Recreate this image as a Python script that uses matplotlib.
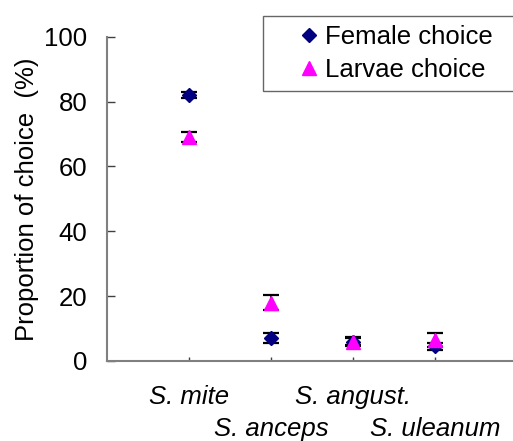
import matplotlib
matplotlib.use("Agg")
import matplotlib.pyplot as plt
from matplotlib.legend_handler import HandlerLine2D

plt.rcParams['font.family'] = ['Liberation Sans', 'DejaVu Sans']

categories = ["S. mite", "S. anceps", "S. angust.", "S. uleanum"]
female = [82.0, 7.0, 6.0, 4.5]
female_err = [1.0, 1.5, 1.3, 1.2]
larvae = [69.0, 18.0, 6.0, 6.5]
larvae_err = [1.5, 2.2, 1.2, 2.2]
yticks = [0, 20, 40, 60, 80, 100]

FS = 18.5
x = list(range(1, len(categories) + 1))

fig = plt.figure(figsize=(5.13, 4.41), dpi=100)
ax = fig.add_axes([107/513, 80/441, 410/513, 324.3/441])

ax.errorbar(x, female, yerr=female_err, fmt='none', ecolor='black',
            elinewidth=1.2, capsize=6, capthick=1.6, zorder=2)
ax.errorbar(x, larvae, yerr=larvae_err, fmt='none', ecolor='black',
            elinewidth=1.2, capsize=6, capthick=1.6, zorder=2)
hf, = ax.plot(x, female, linestyle='none', marker='D', markersize=7.5,
              color='#000080', label='Female choice', zorder=3)
hl, = ax.plot(x, larvae, linestyle='none', marker='^', markersize=10,
              color='#FF00FF', label='Larvae choice', zorder=4)

ax.set_xlim(0, 5)
ax.set_ylim(0, 100)
ax.set_yticks(yticks)
ax.set_yticklabels([str(v) for v in yticks], fontsize=FS)

# staggered category labels: odd categories on first row (major), even on second (minor)
ax.set_xticks(x[0::2])
ax.set_xticklabels(categories[0::2], fontsize=FS, style='italic')
ax.set_xticks(x[1::2], minor=True)
ax.set_xticklabels(categories[1::2], minor=True, fontsize=FS, style='italic')

for s in ['top', 'right']:
    ax.spines[s].set_visible(False)
for s in ['left', 'bottom']:
    ax.spines[s].set_color('#808080')
    ax.spines[s].set_linewidth(1.5)

ax.tick_params(axis='y', direction='in', length=6, width=1, color='#404040', pad=14)
ax.tick_params(axis='x', which='major', direction='in', length=3, width=1,
               color='#404040', pad=17.5)
ax.tick_params(axis='x', which='minor', direction='in', length=3, width=1,
               color='#404040', pad=40)

ax.set_ylabel("Proportion of choice  (%)", fontsize=FS, labelpad=4)

leg = ax.legend(handles=[hf, hl], loc='upper left',
                bbox_to_anchor=(263/513, 0.0, 0.6, (441 - 15.7)/441),
                bbox_transform=fig.transFigure, mode='expand',
                borderaxespad=0, fontsize=FS, frameon=True, fancybox=False,
                handlelength=2.0, handletextpad=0.05, labelspacing=0.32,
                borderpad=0.38,
                handler_map={hf: HandlerLine2D(numpoints=1, xpad=0.85),
                             hl: HandlerLine2D(numpoints=1, xpad=0.85)})
leg.get_frame().set_edgecolor('#404040')
leg.get_frame().set_linewidth(1.0)

fig.savefig("out.png", dpi=100)
